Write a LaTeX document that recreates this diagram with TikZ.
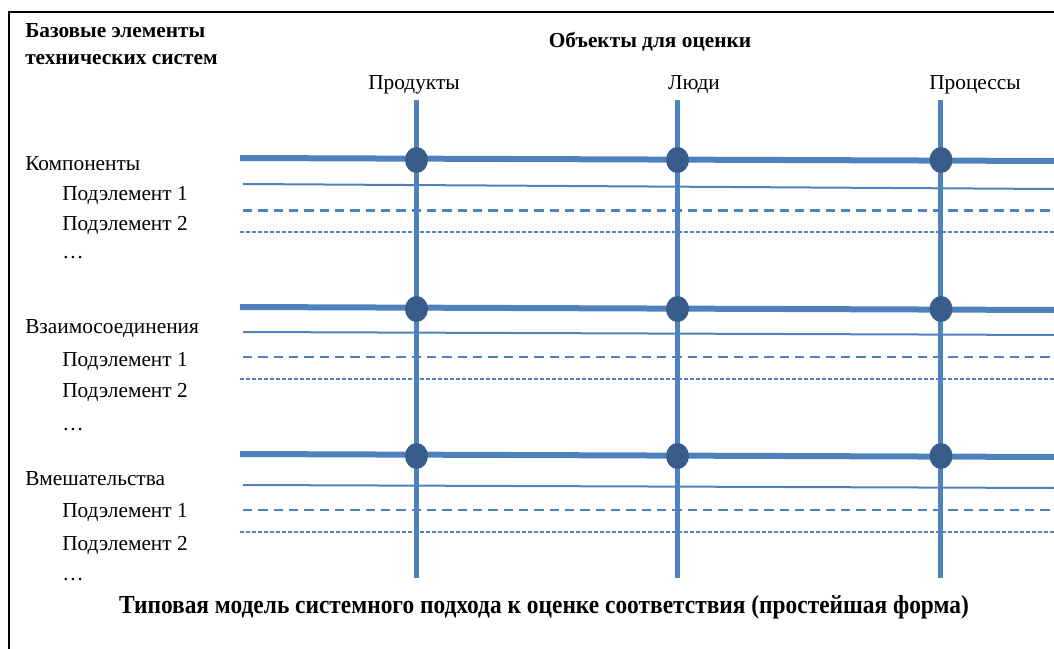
\documentclass[tikz,border=0pt]{standalone}
\usepackage{fontspec}
\setmainfont{Liberation Serif}
\usetikzlibrary{shapes.geometric}
\definecolor{lineblue}{HTML}{4F81BD}
\definecolor{dotblue}{HTML}{385D8A}
\begin{document}
\begin{tikzpicture}[x=0.75pt,y=-0.75pt,
  lbl/.style={font=\fontsize{16}{19}\selectfont, inner sep=0pt, anchor=base west},
  hdr/.style={font=\fontsize{16}{19}\selectfont, inner sep=0pt, anchor=base},
  boldlbl/.style={font=\fontsize{16}{19}\selectfont\bfseries, inner sep=0pt},
  captionstyle/.style={font=\fontsize{19.5}{22}\selectfont\bfseries, inner sep=0pt, anchor=base, xscale=0.9},
  frame/.style={draw=black, line width=2.2pt},
  vline/.style={draw=lineblue, line width=3.75pt},
  mainline/.style={draw=lineblue, line width=4.5pt},
  subline/.style={draw=lineblue, line width=1.5pt},
  dashline/.style={draw=lineblue, line width=1.6pt, dash pattern=on 7pt off 4.5pt},
  dotline/.style={draw=lineblue, line width=1.6pt, dash pattern=on 3pt off 1.5pt},
  junction/.style={ellipse, fill=dotblue, minimum width=17.25pt, minimum height=19.5pt, inner sep=0pt}
]
\useasboundingbox (0,0) rectangle (1054,649);
% frame
\coordinate (fb) at (9,649);
\coordinate (fc) at (9,12);
\coordinate (fr) at (1054,12);
\draw[frame] (fb) -- (fc) -- (fr);

% headings
\node[boldlbl, anchor=base west] (base1) at (25,38) {Базовые элементы};
\node[boldlbl, anchor=base west] (base2) at (25,65) {технических систем};
\node[boldlbl, anchor=base] (objects) at (650,48) {Объекты для оценки};
\node[hdr] (prod) at (414,90) {Продукты};
\node[hdr] (people) at (694,90) {Люди};
\node[hdr] (proc) at (975,90) {Процессы};

% horizontal lines, group 1
\coordinate (m1a) at (240,158); \coordinate (m1b) at (1054,161);
\coordinate (s1a) at (243,184); \coordinate (s1b) at (1054,189);
\coordinate (d1a) at (243,210.5); \coordinate (d1b) at (1054,210.5);
\coordinate (t1a) at (240,232); \coordinate (t1b) at (1054,232);
% group 2
\coordinate (m2a) at (240,307); \coordinate (m2b) at (1054,310);
\coordinate (s2a) at (243,332); \coordinate (s2b) at (1054,335);
\coordinate (d2a) at (243,357); \coordinate (d2b) at (1054,357);
\coordinate (t2a) at (240,379); \coordinate (t2b) at (1054,379);
% group 3
\coordinate (m3a) at (240,454); \coordinate (m3b) at (1054,457);
\coordinate (s3a) at (243,485); \coordinate (s3b) at (1054,488);
\coordinate (d3a) at (243,510); \coordinate (d3b) at (1054,510);
\coordinate (t3a) at (240,532); \coordinate (t3b) at (1054,532);

\draw[mainline] (m1a) -- (m1b);
\draw[subline] (s1a) -- (s1b);
\draw[dashline] (d1a) -- (d1b);
\draw[dotline] (t1a) -- (t1b);
\draw[mainline] (m2a) -- (m2b);
\draw[subline] (s2a) -- (s2b);
\draw[dashline] (d2a) -- (d2b);
\draw[dotline] (t2a) -- (t2b);
\draw[mainline] (m3a) -- (m3b);
\draw[subline] (s3a) -- (s3b);
\draw[dashline] (d3a) -- (d3b);
\draw[dotline] (t3a) -- (t3b);

% vertical lines
\coordinate (v1a) at (416,100); \coordinate (v1b) at (416,578);
\coordinate (v2a) at (677,100); \coordinate (v2b) at (677,578);
\coordinate (v3a) at (940,100); \coordinate (v3b) at (940,578);
\draw[vline] (v1a) -- (v1b);
\draw[vline] (v2a) -- (v2b);
\draw[vline] (v3a) -- (v3b);

% junctions
\node[junction] (j11) at (416.5,160) {};
\node[junction] (j12) at (677.5,160) {};
\node[junction] (j13) at (941,160) {};
\node[junction] (j21) at (416.5,309) {};
\node[junction] (j22) at (677.5,309) {};
\node[junction] (j23) at (941,309) {};
\node[junction] (j31) at (416.5,456) {};
\node[junction] (j32) at (677.5,456) {};
\node[junction] (j33) at (941,456) {};

% row labels
\node[lbl] (comp) at (25,171) {Компоненты};
\node[lbl] (comp1) at (62,201) {Подэлемент 1};
\node[lbl] (comp2) at (62,231) {Подэлемент 2};
\node[lbl] (comp3) at (62,258) {…};
\node[lbl] (inter) at (25,334) {Взаимосоединения};
\node[lbl] (inter1) at (62,366) {Подэлемент 1};
\node[lbl] (inter2) at (62,397) {Подэлемент 2};
\node[lbl] (inter3) at (62,430) {…};
\node[lbl] (interv) at (25,485) {Вмешательства};
\node[lbl] (interv1) at (62,517) {Подэлемент 1};
\node[lbl] (interv2) at (62,550) {Подэлемент 2};
\node[lbl] (interv3) at (62,580) {…};

% caption
\node[captionstyle] (caption) at (544,613) {Типовая модель системного подхода к оценке соответствия (простейшая форма)};
\end{tikzpicture}
\end{document}
